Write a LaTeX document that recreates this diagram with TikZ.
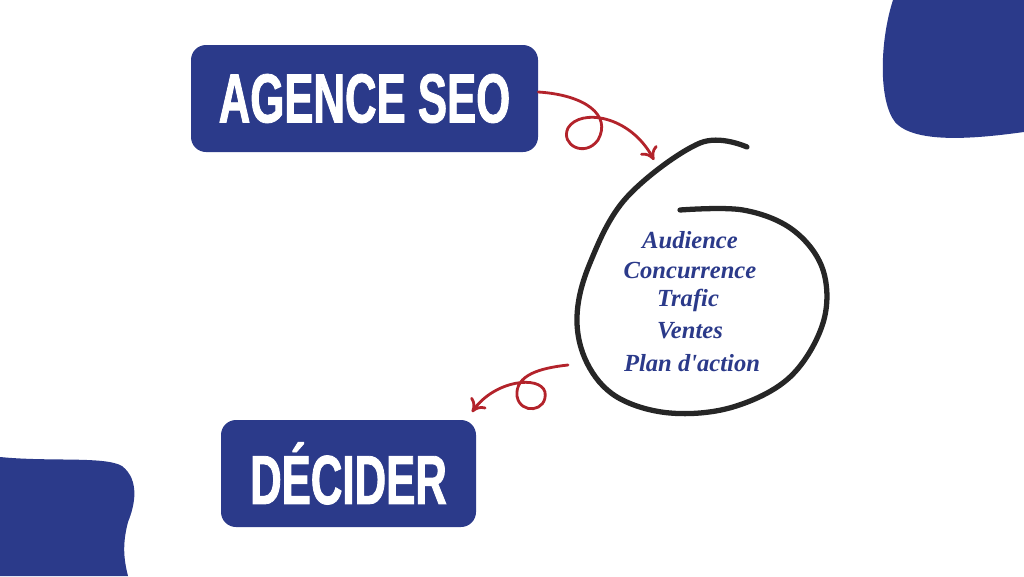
\documentclass[tikz,border=0pt]{standalone}
\usepackage{fontspec}
\usepackage{xcolor}
\usetikzlibrary{arrows.meta, calc, positioning}

\newfontfamily\boxfont[FakeStretch=0.63, FakeBold=1.2]{Liberation Sans}
\newfontfamily\handfont{Liberation Serif}

\definecolor{seoblue}{HTML}{2B3A8A}
\definecolor{loopred}{HTML}{B3232B}

\tikzset{
    tag/.style={fill=seoblue, rounded corners=0.3cm, text=white, font=\boxfont\bfseries\fontsize{39.5}{40}\selectfont, inner sep=0pt},
    item/.style={text=seoblue, font=\handfont\itshape\bfseries\fontsize{14}{15}\selectfont},
    loop/.style={draw=loopred, line width=1.6pt, line cap=round, -{To[length=7pt, width=11pt]}}
}

\begin{document}
\begin{tikzpicture}[x=0.02cm, y=-0.02cm]
    \useasboundingbox (0, 0) rectangle (1024, 576);

    % blobs in the corners
    \fill[seoblue] (893, 0) .. controls (880, 40) and (878, 100) .. (895, 122)
        .. controls (915, 145) and (980, 138) .. (1024, 132) -- (1024, 0) -- cycle;
    \fill[seoblue] (0, 457) .. controls (50, 462) and (105, 456) .. (122, 466)
        .. controls (140, 480) and (135, 505) .. (128, 522)
        .. controls (122, 545) and (124, 560) .. (128, 576) -- (0, 576) -- cycle;

    % the two labels
    \node[tag, minimum width=347*0.02cm, minimum height=107*0.02cm] (seo) at (364.5, 98.5) {AGENCE SEO};
    \node[tag, minimum width=255*0.02cm, minimum height=107*0.02cm] (decide) at (348.5, 473.5) {DÉCIDER};

    % ring round the list
    \draw[line width=3pt, line cap=round, black!85] plot[smooth, tension=0.6] coordinates {
        (747, 147) (700, 143) (627, 197) (590, 263) (577, 317) (587, 363)
        (617, 397) (670, 413) (733, 407) (790, 377) (823, 323) (823, 270)
        (793, 230) (743, 210) (680, 210)};

    \node[item] (aud) at (690, 240) {Audience};
    \node[item] (con) at (690, 270) {Concurrence};
    \node[item] (tra) at (688, 300) {Trafic};
    \node[item] (ven) at (690, 331) {Ventes};
    \node[item] (pla) at (692, 363) {Plan d'action};

    \coordinate (in) at (654, 160);
    \coordinate (out) at (472, 412);

    % red loops
    \draw[loop] (seo.east |- 0, 92) .. controls (585, 95) and (612, 115) .. (598, 140)
        .. controls (585, 158) and (560, 145) .. (568, 128)
        .. controls (580, 108) and (630, 115) .. (in);
    \draw[loop] (568, 365) .. controls (540, 368) and (515, 375) .. (517, 396)
        .. controls (520, 415) and (548, 412) .. (545, 392)
        .. controls (540, 375) and (495, 380) .. (out);
\end{tikzpicture}
\end{document}
